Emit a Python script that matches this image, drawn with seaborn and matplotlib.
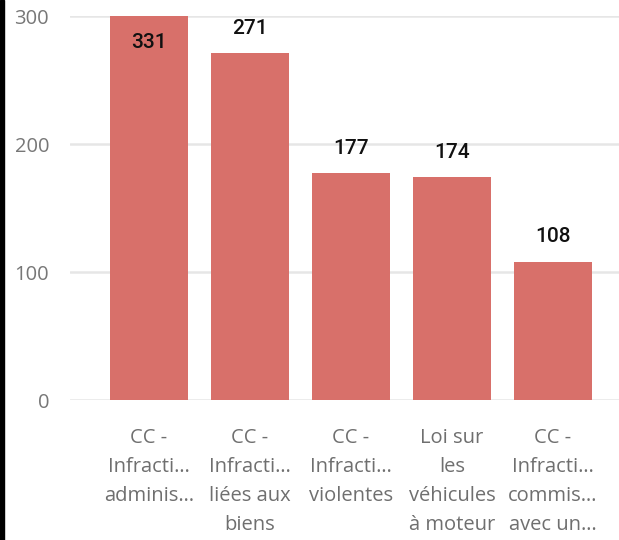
import matplotlib
matplotlib.use("Agg")
import matplotlib.pyplot as plt
import seaborn as sns
import pandas as pd
from matplotlib.patches import Rectangle

categories = [
    "CC -\nInfracti…\nadminis…",
    "CC -\nInfracti…\nliées aux\nbiens",
    "CC -\nInfracti…\nviolentes",
    "Loi sur\nles\nvéhicules\nà moteur",
    "CC -\nInfracti…\ncommis…\navec un…",
]
values = [331, 271, 177, 174, 108]
yticks = [0, 100, 200, 300]

df = pd.DataFrame({"cat": categories, "val": values})

sns.set_theme(style="white")
plt.rcParams["font.family"] = ["Open Sans", "DejaVu Sans"]

fig = plt.figure(figsize=(6.19, 5.40), dpi=100)
ax = fig.add_axes([70 / 619, 1 - 400 / 540, 1 - 70 / 619, (400 - 16) / 540])

sns.barplot(data=df, x="cat", y="val", color="#D8706A", saturation=1,
            width=0.77, ax=ax, zorder=3)
for p in ax.patches:
    p.set_edgecolor("none")

ax.set_ylim(0, 300)
ax.set_xlim(-0.782, 4.653)
ax.set_yticks(yticks)
ax.set_yticklabels([str(t) for t in yticks], color="#777777", fontsize=14.5)
ax.tick_params(axis="y", length=0, pad=15)
ax.tick_params(axis="x", length=0, pad=20)
for lbl in ax.get_xticklabels():
    lbl.set_color("#6f6f6f")
    lbl.set_fontsize(14.5)
    lbl.set_linespacing(1.6)
    lbl.set_va("top")
ax.set_xlabel("")
ax.set_ylabel("")
for s in ax.spines.values():
    s.set_visible(False)
ax.yaxis.grid(True, color="#E6E6E6", linewidth=1.8, zorder=0)
ax.set_axisbelow(True)

for i, v in enumerate(values):
    if v > 300:
        ax.annotate(str(v), (i, 300), xytext=(0, -19), textcoords="offset points",
                    ha="center", va="center", fontsize=15, color="#111111",
                    family=["Roboto", "DejaVu Sans"], weight="medium", clip_on=False)
    else:
        ax.annotate(str(v), (i, v), xytext=(0, 18), textcoords="offset points",
                    ha="center", va="center", fontsize=15, color="#111111",
                    family=["Roboto", "DejaVu Sans"], weight="medium", clip_on=False)

fig.patches.append(Rectangle((0, 0), 4 / 619, 1, transform=fig.transFigure,
                             color="black", zorder=10))

fig.savefig("out.png", dpi=100)
